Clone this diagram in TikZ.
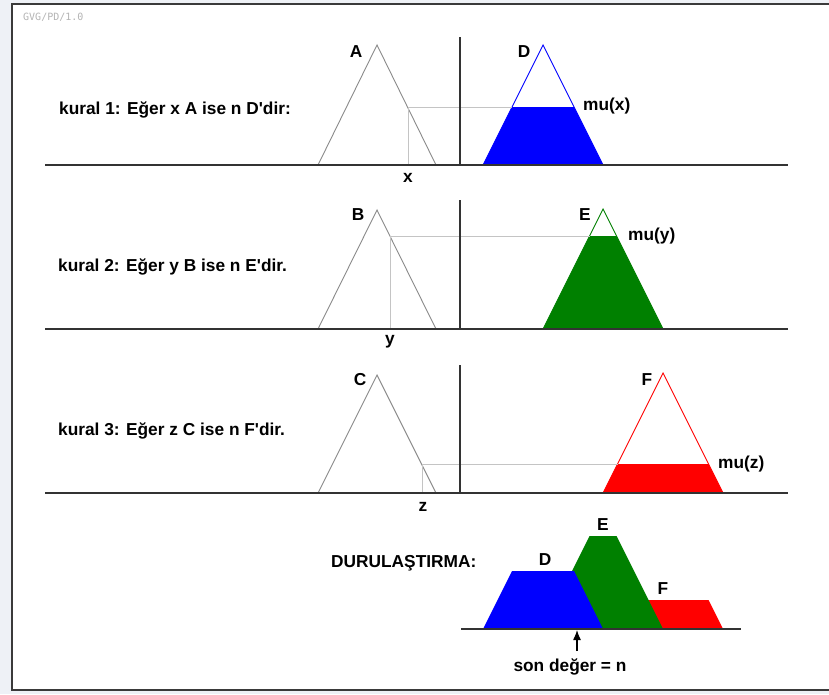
\documentclass[tikz,border=0pt]{standalone}
\usepackage{fontspec}
\setmainfont{Liberation Sans}
\newfontfamily\pixfont{DejaVu Sans Mono}
\usetikzlibrary{arrows.meta}
\definecolor{bgc}{HTML}{EEF1F6}
\definecolor{framec}{HTML}{3A3A3A}
\definecolor{trig}{HTML}{8A8A8A}
\definecolor{guide}{HTML}{C4C4C4}
\definecolor{verc}{HTML}{B4B4B4}
\definecolor{axc}{HTML}{333333}
\definecolor{fblue}{HTML}{0000FF}
\definecolor{fgreen}{HTML}{008000}
\definecolor{fred}{HTML}{FF0000}
\begin{document}
\begin{tikzpicture}[x=1pt,y=-1pt,
  lbl/.style={font=\fontsize{17.3}{20}\selectfont\bfseries, inner sep=0pt, text=black},
  rulelbl/.style={lbl, anchor=west},
  axis/.style={draw=axc, line width=1.3pt},
  tri/.style={draw=trig, line width=0.9pt},
  guideline/.style={draw=guide, line width=0.9pt},
  outl/.style={line width=0.9pt, line join=miter}]
\useasboundingbox (0,0) rectangle (829,694);
\fill[bgc] (0,0) rectangle (829,694);
\fill[white] (12,4) rectangle (835,690);
\draw[framec, line width=2pt] (835,4) -- (12,4) -- (12,690) -- (835,690);
\node[font=\pixfont\fontsize{10}{10}\selectfont, text=verc, anchor=west, inner sep=0pt] (ver) at (23,17) {GVG/PD/1.0};

% ---------- panel 1 ----------
\coordinate (ax1l) at (45,165); \coordinate (ax1r) at (788,165);
\coordinate (v1t) at (460,37); \coordinate (v1b) at (460,165);
\coordinate (A1) at (318,165); \coordinate (A2) at (377,45); \coordinate (A3) at (436,165);
\coordinate (xb) at (408,165); \coordinate (xp) at (408,107); \coordinate (dl) at (512,107);
\coordinate (D1) at (483,165); \coordinate (D2) at (543,45); \coordinate (D3) at (603,165);
\coordinate (dr) at (574,107);
\fill[fblue] (D1) -- (dl) -- (dr) -- (D3) -- cycle;
\draw[fblue, outl] (D1) -- (D2) -- (D3);
\draw[tri] (A1) -- (A2) -- (A3);
\draw[guideline] (xb) -- (xp) -- (dl);
\draw[axis] (ax1l) -- (ax1r);
\draw[axis] (v1t) -- (v1b);
\node[rulelbl] (r1) at (59,110) {kural 1: Eğer x A ise n D\textquotesingle dir:};
\node[lbl] (la) at (356,52) {A};
\node[lbl] (ld) at (524,52) {D};
\node[lbl, anchor=west] (mux) at (583,106) {mu(x)};
\node[lbl] (lx) at (408,178) {x};

% ---------- panel 2 ----------
\coordinate (ax2l) at (45,329); \coordinate (ax2r) at (788,329);
\coordinate (v2t) at (460,200); \coordinate (v2b) at (460,329);
\coordinate (B1) at (318,329); \coordinate (B2) at (377,210); \coordinate (B3) at (436,329);
\coordinate (yb) at (390,329); \coordinate (yp) at (390,236); \coordinate (el) at (589.5,236);
\coordinate (E1) at (543,329); \coordinate (E2) at (603,209); \coordinate (E3) at (663,329);
\coordinate (er) at (616.5,236);
\fill[fgreen] (E1) -- (el) -- (er) -- (E3) -- cycle;
\draw[fgreen, outl] (E1) -- (E2) -- (E3);
\draw[tri] (B1) -- (B2) -- (B3);
\draw[guideline] (yb) -- (yp) -- (el);
\draw[axis] (ax2l) -- (ax2r);
\draw[axis] (v2t) -- (v2b);
\node[rulelbl] (r2) at (58,267) {kural 2: Eğer y B ise n E\textquotesingle dir.};
\node[lbl] (lb) at (358,215) {B};
\node[lbl] (le) at (585,215) {E};
\node[lbl, anchor=west] (muy) at (628,236) {mu(y)};
\node[lbl] (ly) at (390,342) {y};

% ---------- panel 3 ----------
\coordinate (ax3l) at (45,493); \coordinate (ax3r) at (788,493);
\coordinate (v3t) at (460,365); \coordinate (v3b) at (460,493);
\coordinate (C1) at (318,493); \coordinate (C2) at (377,375); \coordinate (C3) at (436,493);
\coordinate (zb) at (422,493); \coordinate (zp) at (422,464); \coordinate (fl) at (617.5,464);
\coordinate (F1) at (603,493); \coordinate (F2) at (663,373); \coordinate (F3) at (723,493);
\coordinate (fr) at (708.5,464);
\fill[fred] (F1) -- (fl) -- (fr) -- (F3) -- cycle;
\draw[fred, outl] (F1) -- (F2) -- (F3);
\draw[tri] (C1) -- (C2) -- (C3);
\draw[guideline] (zb) -- (zp) -- (fl);
\draw[axis] (ax3l) -- (ax3r);
\draw[axis] (v3t) -- (v3b);
\node[rulelbl] (r3) at (58,431) {kural 3: Eğer z C ise n F\textquotesingle dir.};
\node[lbl] (lc) at (360,380) {C};
\node[lbl] (lf) at (647,380) {F};
\node[lbl, anchor=west] (muz) at (718,464) {mu(z)};
\node[lbl] (lz) at (423,507) {z};

% ---------- panel 4 ----------
\fill[fred] (603,629) -- (617.5,600) -- (708.5,600) -- (723,629) -- cycle;
\fill[fgreen] (543,629) -- (589.5,536) -- (616.5,536) -- (663,629) -- cycle;
\fill[fblue] (483,629) -- (512,571) -- (574,571) -- (603,629) -- cycle;
\coordinate (ax4l) at (461,629); \coordinate (ax4r) at (741,629);
\draw[axis] (ax4l) -- (ax4r);
\node[lbl, anchor=west] (defz) at (331,563) {DURULAŞTIRMA:};
\node[lbl] (d4) at (545,560) {D};
\node[lbl] (e4) at (603,525) {E};
\node[lbl] (f4) at (663,589) {F};
\node[lbl] (son) at (570,667) {son değer = n};
\coordinate (arrt) at (577,630);
\coordinate (arrb) at (577,651);
\draw[black, line width=1.2pt, -{Latex[length=10pt,width=8pt]}] (arrb) -- (arrt);
\end{tikzpicture}
\end{document}
